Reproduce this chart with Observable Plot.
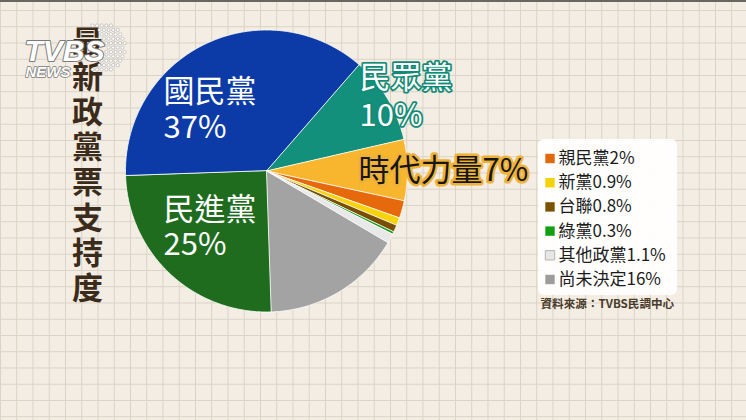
<!DOCTYPE html>
<html><head><meta charset="utf-8">
<script src="https://cdn.jsdelivr.net/npm/d3@7"></script>
<script src="https://cdn.jsdelivr.net/npm/@observablehq/plot@0.6"></script>
<style>
html,body{margin:0;padding:0;background:#f2ece2;}
#chart{width:746px;height:420px;overflow:hidden;position:relative;
background-color:#f3ede3;
background-image:linear-gradient(to right,#dbd2c5 1.2px,transparent 1.2px),linear-gradient(to bottom,#dbd2c5 1.2px,transparent 1.2px);
background-size:16.25px 16.25px;background-position:0 8px;
border-top:2px solid #6a6660;box-sizing:border-box;}
svg{display:block;}
</style></head><body><div id="chart"></div>
<script>
// ---- data ----
const parties = ["國民黨","民眾黨","時代力量","親民黨","新黨","台聯","綠黨","其他政黨","尚未決定","民進黨"];
const shares  = [37, 10, 7, 2, 0.9, 0.8, 0.3, 1.1, 16, 25];
const legendParties = ["親民黨","新黨","台聯","綠黨","其他政黨","尚未決定"];
const titleText = "最新政黨票支持度";
const sourceText = "資料來源：TVBS民調中心";

// ---- styles / layout ----
const sliceColors = ["#0c3ba7","#13907b","#f8b62e","#e6690c","#f6d30a","#7a4e02","#1ea01e","#e8e8e8","#a3a3a3","#1f6c1f"];
const legendColors = {"親民黨":"#e2680e","新黨":"#f4d30b","台聯":"#7a5200","綠黨":"#12a012","其他政黨":"#e6e6e6","尚未決定":"#9c9c9c"};
const CX = 266, CY = 168.5, R = 141;
const START = -92 * Math.PI / 180;
const FONT = "'Noto Sans CJK TC','Noto Sans',sans-serif";

const table = parties.map((p, i) => ({party: p, share: shares[i]}));
const arcs = d3.pie().sort(null).value(d => d.share).startAngle(START).endAngle(START + 2 * Math.PI)(table);
const poly = [];
for (const a of arcs) {
  poly.push({party: a.data.party, x: CX, y: CY});
  const n = Math.max(2, Math.ceil((a.endAngle - a.startAngle) / (Math.PI / 360)));
  for (let k = 0; k <= n; k++) {
    const t = a.startAngle + (a.endAngle - a.startAngle) * k / n;
    poly.push({party: a.data.party, x: CX + R * Math.sin(t), y: CY - R * Math.cos(t)});
  }
}
const shareOf = p => shares[parties.indexOf(p)];

// slice labels (layout)
const bigLabels = [
  {text: "國民黨", x: 163, y: 90, fill: "white", stroke: "none", sw: 0},
  {text: shareOf("國民黨") + "%", x: 163, y: 126, fill: "white", stroke: "none", sw: 0},
  {text: "民進黨", x: 163, y: 208, fill: "white", stroke: "none", sw: 0},
  {text: shareOf("民進黨") + "%", x: 163, y: 243, fill: "white", stroke: "none", sw: 0},
  {text: "民眾黨", x: 359, y: 76, fill: "white", stroke: "#138a76", sw: 3.5},
  {text: shareOf("民眾黨") + "%", x: 359, y: 114, fill: "white", stroke: "#138a76", sw: 3.5},
  {text: "時代力量" + shareOf("時代力量") + "%", x: 358, y: 169, fill: "#161616", stroke: "#efb238", sw: 5}
];

const legendRows = legendParties.map((p, i) => ({party: p, label: p + shareOf(p) + "%", y: 156 + i * 24.2}));

// logo dots (decoration)
const logoDots = [];
for (let r = 0; r < 11; r++) {
  for (let c = 0; c < 9; c++) {
    const x = 92 + c * 4.6 + (r % 2) * 2.3, y = 23 + r * 4.4;
    const dx = x - 96, dy = y - 45;
    if (Math.hypot(dx, dy) < 29 && Math.hypot(dx + 18, dy) > 26) logoDots.push({x, y});
  }
}

const plot = Plot.plot({
  width: 746, height: 418,
  margin: 0,
  x: {domain: [0, 746], range: [0, 746], axis: null},
  y: {domain: [0, 418], range: [0, 418], axis: null},
  color: {domain: parties, range: sliceColors},
  style: {background: "transparent", overflow: "visible"},
  marks: [
    // title
    Plot.text([titleText], {x: () => 87, y: () => 26, text: d => d.split("").join("\n"),
      lineAnchor: "top", lineHeight: 1.13, fontSize: 31, fontWeight: "bold",
      fill: "#3b2b1a", fontFamily: FONT}),
    // pie
    Plot.line(poly, {x: "x", y: "y", z: "party", fill: "party", stroke: "white",
      strokeWidth: 0.8, curve: "linear-closed"}),
    // slice labels
    Plot.text(bigLabels, {x: "x", y: "y", text: "text", textAnchor: "start", fontSize: 31,
      fill: d => d.fill, stroke: d => d.stroke, strokeWidth: d => d.sw, strokeLinejoin: "round",
      paintOrder: "stroke", fontFamily: FONT}),
    // legend box
    Plot.rect([0], {x1: () => 538, x2: () => 677, y1: () => 137, y2: () => 293,
      fill: "white", fillOpacity: 0.93, rx: 6}),
    Plot.dot(legendRows, {x: () => 549.5, y: "y", symbol: "square", r: 5.3,
      fill: d => legendColors[d.party], stroke: d => d.party === "其他政黨" ? "#b5b5b5" : "none", strokeWidth: 1}),
    Plot.text(legendRows, {x: () => 558, y: "y", text: "label", textAnchor: "start",
      fontSize: 17, fill: "#1c1c1c", fontFamily: FONT}),
    // source
    Plot.text([sourceText], {x: () => 540, y: () => 302, textAnchor: "start", fontSize: 11.6,
      fontWeight: "bold", fill: "#4a3b2c", fontFamily: FONT}),
    // logo
    Plot.dot(logoDots, {x: "x", y: "y", r: 1.6, fill: "white", stroke: "#9a9a9a", strokeWidth: 0.5}),
    Plot.text(["TVBS"], {x: () => 24, y: () => 58, textAnchor: "start", lineAnchor: "bottom",
      fontSize: 30, fontWeight: "bold", fontStyle: "italic", fill: "white", stroke: "#7a7a7a",
      strokeWidth: 2, paintOrder: "stroke", fontFamily: "'Liberation Sans',sans-serif", letterSpacing: -1}),
    Plot.text(["NEWS"], {x: () => 25, y: () => 74, textAnchor: "start", lineAnchor: "bottom",
      fontSize: 15, fontWeight: "bold", fontStyle: "italic", fill: "white", stroke: "#7a7a7a",
      strokeWidth: 1.5, paintOrder: "stroke", fontFamily: "'Liberation Sans',sans-serif"})
  ]
});
document.getElementById("chart").appendChild(plot);
</script>
</body></html>
